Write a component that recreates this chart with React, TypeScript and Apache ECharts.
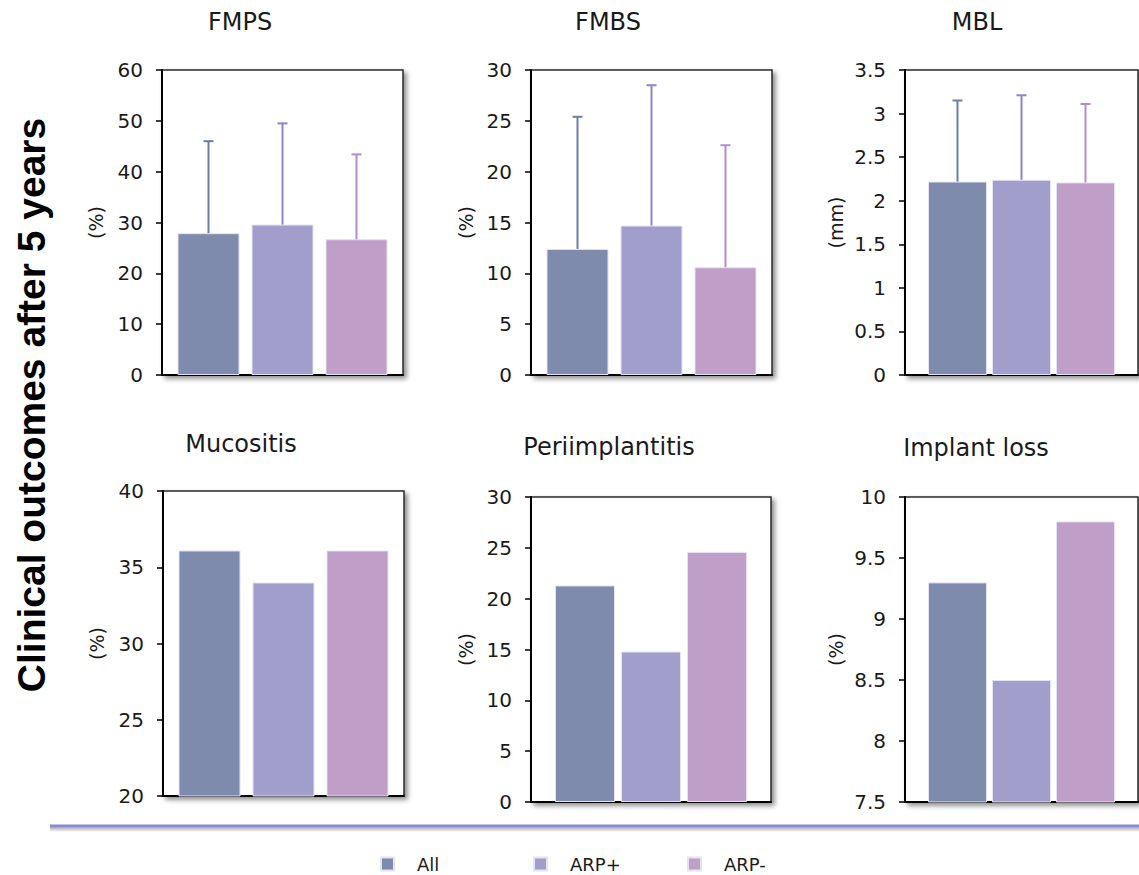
import React, { useEffect, useRef } from "react";
import * as echarts from "echarts";

// ---------- data ----------
const groups = ["All", "ARP+", "ARP-"];
const panelTitles = ["FMPS", "FMBS", "MBL", "Mucositis", "Periimplantitis", "Implant loss"];
const axisNames = ["(%)", "(%)", "(mm)", "(%)", "(%)", "(%)"];

const fmpsMean = [27.9, 29.6, 26.7];
const fmpsUpper = [46.0, 49.5, 43.4];
const fmbsMean = [12.4, 14.7, 10.6];
const fmbsUpper = [25.4, 28.5, 22.6];
const mblMean = [2.22, 2.24, 2.21];
const mblUpper = [3.15, 3.21, 3.11];
const mucositis = [36.1, 34.0, 36.1];
const periimplantitis = [21.3, 14.8, 24.6];
const implantLoss = [9.3, 8.5, 9.8];

const yMin = [0, 0, 0, 20, 0, 7.5];
const yMax = [60, 30, 3.5, 40, 30, 10];
const yStep = [10, 5, 0.5, 5, 5, 0.5];

const panelMeans = [fmpsMean, fmbsMean, mblMean, mucositis, periimplantitis, implantLoss];
const panelUppers: (number[] | null)[] = [fmpsUpper, fmbsUpper, mblUpper, null, null, null];

// ---------- layout / style ----------
const layout = [
  { left: 162, top: 70, width: 241, height: 305, barW: 62, gap: 12, tx: 240, ty: 22, nameGap: 57 },
  { left: 531, top: 70, width: 241, height: 305, barW: 62, gap: 12, tx: 608, ty: 22, nameGap: 56 },
  { left: 905, top: 70, width: 233, height: 305, barW: 59, gap: 5, tx: 977, ty: 22, nameGap: 60 },
  { left: 163, top: 491, width: 241, height: 305, barW: 62, gap: 12, tx: 241, ty: 444, nameGap: 57 },
  { left: 531, top: 497, width: 240, height: 305, barW: 60, gap: 6, tx: 609, ty: 447, nameGap: 56 },
  { left: 905, top: 497, width: 233, height: 305, barW: 59, gap: 5, tx: 976, ty: 448, nameGap: 60 },
];

const barColors = ["#7f8bad", "#a29ecc", "#bf9ec8"];
const errColors = ["#6d7da8", "#8a84d0", "#b38bd0"];
const legendLeft = [380, 533, 687];
const FONT = "DejaVu Sans";

export default function App() {
  const ref = useRef<HTMLDivElement>(null);

  useEffect(() => {
    document.body.style.margin = "0";
    if (!ref.current) return;
    const chart = echarts.init(ref.current, undefined, { renderer: "svg" });

    const grid: any[] = [];
    const xAxis: any[] = [];
    const yAxis: any[] = [];
    const series: any[] = [];
    const graphic: any[] = [];

    layout.forEach((L, p) => {
      grid.push({
        left: L.left,
        top: L.top,
        width: L.width,
        height: L.height,
        show: true,
        backgroundColor: "#ffffff",
        borderColor: "#2a2a2a",
        borderWidth: 1.5,
        shadowColor: "rgba(0,0,0,0.45)",
        shadowBlur: 5,
        shadowOffsetX: 3,
        shadowOffsetY: 3,
      });
      xAxis.push({
        type: "category",
        gridIndex: p,
        data: [""],
        axisLabel: { show: false },
        axisTick: { show: false },
        axisLine: { show: true, lineStyle: { color: "#000", width: 2 } },
      });
      yAxis.push({
        type: "value",
        gridIndex: p,
        min: yMin[p],
        max: yMax[p],
        interval: yStep[p],
        splitLine: { show: false },
        axisLine: { show: true, lineStyle: { color: "#000", width: 2 } },
        axisTick: { show: true, length: 6, lineStyle: { color: "#000", width: 1.5 } },
        axisLabel: { fontSize: 20, fontFamily: FONT, color: "#1a1a1a", margin: 19 },
        name: axisNames[p],
        nameLocation: "middle",
        nameRotate: 90,
        nameGap: L.nameGap,
        nameTextStyle: { fontSize: 19, fontFamily: FONT, color: "#1a1a1a" },
      });
      const means = panelMeans[p];
      groups.forEach((g, i) => {
        series.push({
          type: "bar",
          name: g,
          xAxisIndex: p,
          yAxisIndex: p,
          data: [means[i]],
          barWidth: L.barW,
          barGap: `${(L.gap / L.barW) * 100}%`,
          clip: true,
          itemStyle: { color: barColors[i], borderColor: "#e4e2f4", borderWidth: 1 },
          emphasis: { disabled: true },
        });
      });
      const uppers = panelUppers[p];
      if (uppers) {
        const offset = L.barW + L.gap;
        series.push({
          type: "custom",
          xAxisIndex: p,
          yAxisIndex: p,
          z: 5,
          data: groups.map((_, i) => [0, means[i], uppers[i], i]),
          renderItem: (_params: any, api: any) => {
            const idx = api.value(3);
            const base = api.coord([api.value(0), api.value(1)]);
            const top = api.coord([api.value(0), api.value(2)]);
            const x = base[0] + (idx - 1) * offset;
            const st = { stroke: errColors[idx], lineWidth: 2 };
            return {
              type: "group",
              children: [
                { type: "line", shape: { x1: x, y1: base[1], x2: x, y2: top[1] }, style: st },
                { type: "line", shape: { x1: x - 5, y1: top[1], x2: x + 5, y2: top[1] }, style: st },
              ],
            };
          },
        });
      }
      graphic.push({
        type: "text",
        x: L.tx,
        y: L.ty,
        style: {
          text: panelTitles[p],
          font: `24px "${FONT}"`,
          fill: "#1a1a1a",
          textAlign: "center",
          textVerticalAlign: "middle",
        },
      });
    });

    graphic.push({
      type: "text",
      x: 31,
      y: 405,
      rotation: Math.PI / 2,
      style: {
        text: "Clinical outcomes after 5 years",
        font: `bold 39px "Liberation Sans"`,
        fill: "#000",
        textAlign: "center",
        textVerticalAlign: "middle",
      },
    });
    // separator line with a soft grey shadow beneath
    graphic.push({
      type: "rect",
      shape: { x: 50, y: 827, width: 1089, height: 5 },
      style: {
        fill: {
          type: "linear",
          x: 0,
          y: 0,
          x2: 0,
          y2: 1,
          colorStops: [
            { offset: 0, color: "rgba(0,0,0,0.35)" },
            { offset: 1, color: "rgba(0,0,0,0)" },
          ],
        },
      },
    });
    graphic.push({
      type: "rect",
      shape: { x: 50, y: 824.5, width: 1089, height: 2.5 },
      style: { fill: "#8b88d4" },
    });

    const legend = groups.map((g, i) => ({
      data: [g],
      left: legendLeft[i],
      top: 855,
      padding: 0,
      icon: "rect",
      itemWidth: 13,
      itemHeight: 13,
      selectedMode: false,
      textStyle: { fontSize: 18, fontFamily: FONT, color: "#1a1a1a", padding: [0, 0, 0, 18] },
    }));

    chart.setOption({
      animation: false,
      backgroundColor: "#ffffff",
      grid,
      xAxis,
      yAxis,
      series,
      legend,
      graphic,
    });

    return () => chart.dispose();
  }, []);

  return <div ref={ref} style={{ width: "1139px", height: "875px" }} />;
}
